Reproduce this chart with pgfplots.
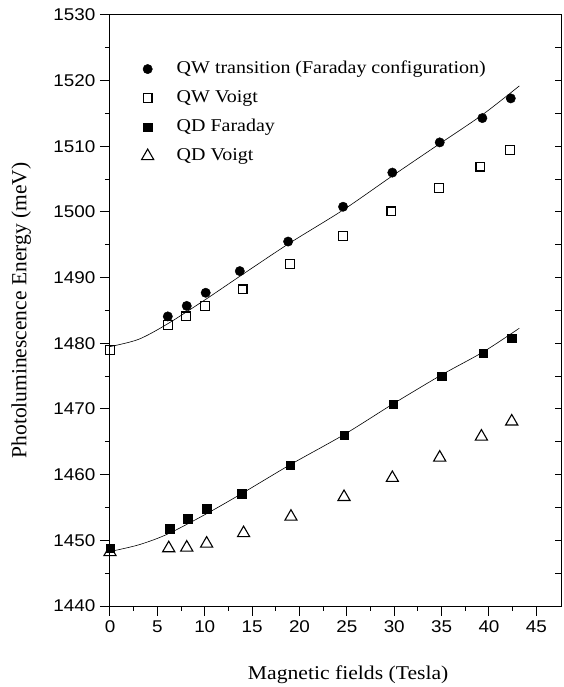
\documentclass[border=0pt]{standalone}
\usepackage{fontspec}
\setmainfont{Liberation Serif}[FakeStretch=1.11]
\newfontfamily\serifplain{Liberation Serif}
\newfontfamily\arialfont{Liberation Sans}[FakeStretch=1.11]
\usepackage{pgfplots}
\pgfplotsset{compat=1.18}
\begin{document}
\begin{tikzpicture}
\useasboundingbox (-110pt,-81pt) rectangle (453pt,606pt);
\begin{axis}[
  at={(0,0)}, anchor=south west,
  scale only axis, width=451pt, height=591pt,
  xmin=0, xmax=47.6, ymin=1440, ymax=1530,
  xtick={0,5,...,45}, ytick={1440,1450,...,1530},
  minor xtick={2.5,7.5,...,42.5}, minor ytick={1445,1455,...,1525},
  tick pos=left, tick align=outside,
  major tick length=10pt, minor tick length=5pt,
  axis line style={line width=1pt},
  every tick/.style={black, line width=1pt},
  /pgf/number format/assume math mode=true,
  /pgf/number format/1000 sep={},
  tick label style={font=\arialfont\fontsize{17}{20}\selectfont},
  xticklabel style={yshift=-1pt},
  yticklabel style={xshift=-1pt},
  xlabel={Magnetic fields (Tesla)},
  ylabel={Photoluminescence Energy (meV)},
  xlabel style={font=\fontsize{19.5}{23}\selectfont, at={(axis description cs:0.528,-0.117)}, anchor=center},
  ylabel style={font=\serifplain\fontsize{21.5}{25}\selectfont, at={(axis description cs:-0.197,0.5)}, anchor=center, rotate=0},
  legend style={draw=none, fill=none, at={(axis description cs:0.063,0.93)}, anchor=north west,
    font=\fontsize{18}{22}\selectfont, row sep=8pt,
    nodes={text height=13pt, text depth=4pt, inner sep=2pt},
    /tikz/every odd column/.append style={column sep=21pt}},
  legend cell align=left,
]
\addplot[only marks, mark=*, mark size=4.7pt, black] coordinates {
(6.1,1484.1) (8.1,1485.7) (10.1,1487.7) (13.7,1491.0) (18.8,1495.5) (24.6,1500.8)
(29.8,1506.0) (34.8,1510.6) (39.3,1514.3) (42.3,1517.3)};
\addlegendentry{QW transition (Faraday configuration)}
\addplot[only marks, mark=square, mark size=4.4pt, black, line width=1.2pt] coordinates {
(0,1479.0) (6.1,1482.8) (8.0,1484.1) (10.0,1485.7) (14.0,1488.2) (19.0,1492.1)
(24.6,1496.3) (29.7,1500.1) (34.7,1503.7) (39.1,1506.9) (42.2,1509.4)};
\addlegendentry{QW Voigt}
\addplot[only marks, mark=square*, mark size=4.2pt, black] coordinates {
(0,1448.8) (6.3,1451.8) (8.2,1453.3) (10.2,1454.8) (13.9,1457.1) (19.0,1461.4)
(24.7,1466.0) (29.9,1470.7) (35.0,1475.0) (39.4,1478.5) (42.4,1480.8)};
\addlegendentry{QD Faraday}
\addplot[only marks, mark=triangle, mark size=7pt, black, line width=1.1pt] coordinates {
(0,1448.2) (6.2,1448.8) (8.1,1448.9) (10.2,1449.5) (14.1,1451.1) (19.1,1453.6)
(24.7,1456.6) (29.8,1459.5) (34.8,1462.6) (39.2,1465.8) (42.4,1468.1)};
\addlegendentry{QD Voigt}
\addplot[black, line width=0.6pt, smooth, forget plot] coordinates {
(0,1479.5) (3,1480.6) (6,1482.9) (10,1486.6) (14,1490.5) (19,1495.3) (24.6,1500.3)
(29.8,1505.5) (34.8,1510.4) (39.3,1514.8) (43.2,1519.2)};
\addplot[black, line width=0.6pt, smooth, forget plot] coordinates {
(0,1448.3) (3,1449.3) (6,1450.9) (10,1453.9) (14,1457.2) (19,1461.5) (24.7,1466.1)
(29.9,1470.8) (35,1475.2) (39.4,1478.7) (43.2,1482.3)};
\end{axis}
\begin{axis}[
  at={(0,0)}, anchor=south west,
  scale only axis, width=451pt, height=591pt,
  xmin=0, xmax=47.6, ymin=1440, ymax=1530,
  axis x line=none, axis y line*=right,
  axis line style={line width=1pt, -},
  ytick={1445,1450,...,1525}, yticklabels={},
  tick align=inside, major tick length=6pt,
  every tick/.style={black, line width=1pt},
]
\addplot[draw=none] coordinates {(0,1500)};
\end{axis}
\draw[line width=1pt] (0,591pt) -- (451pt,591pt);
\end{tikzpicture}
\end{document}
